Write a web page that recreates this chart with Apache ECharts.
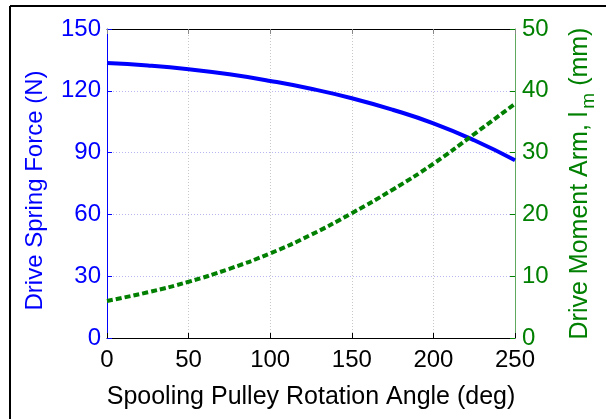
<!DOCTYPE html>
<html>
<head>
<meta charset="utf-8">
<script src="https://cdn.jsdelivr.net/npm/echarts@6/dist/echarts.min.js"></script>
<style>html,body{margin:0;padding:0;background:#fff;}#c{width:606px;height:419px;}</style>
</head>
<body>
<div id="c"></div>
<script>
var angles = [0, 25, 50, 75, 100, 125, 150, 175, 200, 225, 250];
var springForce = [133.5, 132.3, 130.5, 128.0, 124.8, 121.0, 116.4, 110.8, 104.2, 96.0, 86.3];
var momentArm = [6.0, 7.4, 9.1, 11.2, 13.7, 16.7, 20.2, 24.0, 28.2, 33.0, 37.9];
var xTicks = [0, 50, 100, 150, 200, 250];
var leftTicks = [0, 30, 60, 90, 120, 150];
var rightTicks = [0, 10, 20, 30, 40, 50];

function pairs(xs, ys) { return xs.map(function (x, i) { return [x, ys[i]]; }); }

var FONT = 'Liberation Sans, Arial, sans-serif';
var chart = echarts.init(document.getElementById('c'), null, { renderer: 'canvas' });
chart.setOption({
  animation: false,
  backgroundColor: '#fff',
  grid: { left: 107, right: 85, top: 29, bottom: 81, containLabel: false },
  xAxis: [{
    type: 'value', min: 0, max: 250, interval: 50, position: 'bottom',
    name: 'Spooling Pulley Rotation Angle (deg)', nameLocation: 'middle', nameGap: 47,
    nameTextStyle: { color: '#000', fontSize: 25, fontFamily: FONT },
    axisLine: { show: true, onZero: false, lineStyle: { color: '#000', width: 1 } },
    axisTick: { show: true, inside: true, length: 5, lineStyle: { color: '#000' } },
    axisLabel: { color: '#000', fontSize: 24, fontFamily: FONT, margin: 10,
      formatter: function (v) { return xTicks.indexOf(v) >= 0 ? String(v) : ''; } },
    splitLine: { show: true, lineStyle: { color: '#c8c8c8', type: [1, 2], width: 1 } }
  }, {
    type: 'value', min: 0, max: 250, interval: 50, position: 'top',
    axisLine: { show: true, onZero: false, lineStyle: { color: '#000', width: 1 } },
    axisTick: { show: true, inside: true, length: 5, lineStyle: { color: '#888' } },
    axisLabel: { show: false }, splitLine: { show: false }
  }],
  yAxis: [{
    type: 'value', min: 0, max: 150, interval: 30, position: 'left',
    name: 'Drive Spring Force (N)', nameLocation: 'middle', nameGap: 60, nameRotate: 90,
    nameTextStyle: { color: '#0000ff', fontSize: 24, fontFamily: FONT, padding: [0, 14, 0, 0] },
    axisLine: { show: true, onZero: false, lineStyle: { color: '#0000ff', width: 1 } },
    axisTick: { show: true, inside: true, length: 5, lineStyle: { color: '#0000ff' } },
    axisLabel: { color: '#0000ff', fontSize: 24, fontFamily: FONT, margin: 6,
      formatter: function (v) { return leftTicks.indexOf(v) >= 0 ? String(v) : ''; } },
    splitLine: { show: true, lineStyle: { color: '#b8b8f0', type: [1, 2], width: 1 } }
  }, {
    type: 'value', min: 0, max: 50, interval: 10, position: 'right',
    name: '{a|Drive Moment Arm, l}{s|m}{a| (mm)}', nameLocation: 'middle', nameGap: 48, nameRotate: 90,
    nameTextStyle: { color: '#008000', fontSize: 25, fontFamily: FONT,
      rich: {
        a: { color: '#008000', fontSize: 25, fontFamily: FONT },
        s: { color: '#008000', fontSize: 19, fontFamily: FONT, padding: [16, 0, 0, 3] }
      } },
    axisLine: { show: true, onZero: false, lineStyle: { color: '#5fa85f', width: 1 } },
    axisTick: { show: true, inside: true, length: 5, lineStyle: { color: '#008000' } },
    axisLabel: { color: '#008000', fontSize: 24, fontFamily: FONT, margin: 7,
      formatter: function (v) { return rightTicks.indexOf(v) >= 0 ? String(v) : ''; } },
    splitLine: { show: false }
  }],
  graphic: [
    { type: 'line', shape: { x1: 10, y1: 6, x2: 10, y2: 419 }, style: { stroke: '#000', lineWidth: 2 }, silent: true },
    { type: 'line', shape: { x1: 10, y1: 6, x2: 606, y2: 6 }, style: { stroke: '#000', lineWidth: 2 }, silent: true }
  ],
  series: [{
    type: 'line', xAxisIndex: 0, yAxisIndex: 0, smooth: true, showSymbol: false,
    data: pairs(angles, springForce),
    lineStyle: { color: '#0000ff', width: 4 }, z: 3
  }, {
    type: 'line', xAxisIndex: 0, yAxisIndex: 1, smooth: true, showSymbol: false,
    data: pairs(angles, momentArm),
    lineStyle: { color: '#007f00', width: 4, type: [6, 3] }, z: 4
  }]
});
</script>
</body>
</html>
